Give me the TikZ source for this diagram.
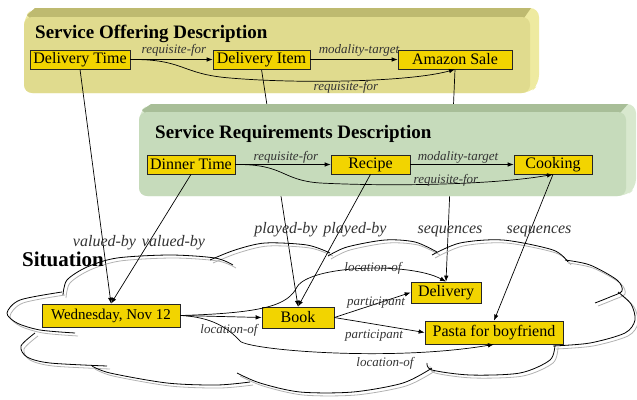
\documentclass[tikz,border=0pt]{standalone}
\usepackage{fontspec}
\setmainfont{Liberation Serif}
\usetikzlibrary{arrows.meta}
\pgfdeclarelayer{lyA}\pgfdeclarelayer{lyB}\pgfdeclarelayer{lyC}
\pgfsetlayers{lyA,lyB,lyC,main}
\definecolor{nodeY}{HTML}{F2D400}
\definecolor{yFace}{HTML}{E0DB8E}
\definecolor{yTop}{HTML}{BEBA70}
\definecolor{yRight}{HTML}{EEEAA0}
\definecolor{gFace}{HTML}{C6DBBB}
\definecolor{gTop}{HTML}{A8BE98}
\definecolor{gRight}{HTML}{D8E8CE}
\newcommand\myCloudArcs{%
 \draw plot[smooth] coordinates {(62,292) (20,300) (7,313) (17,323) (40,330) (75,333)};
 \draw plot[smooth] coordinates {(63,295) (67,280) (87,267) (117,258) (170,255) (215,258) (233,265)};
 \draw plot[smooth] coordinates {(210,260) (235,250) (265,243) (307,245) (330,253)};
 \draw plot[smooth] coordinates {(328,256) (347,247) (385,240) (415,242) (437,252)};
 \draw plot[smooth] coordinates {(432,255) (460,243) (503,240) (553,250) (568,262)};
 \draw plot[smooth] coordinates {(565,260) (590,265) (617,280) (622,291) (610,297) (595,303)};
 \draw plot[smooth] coordinates {(618,292) (631,304) (635,320) (625,333) (590,343) (553,346)};
 \draw plot[smooth] coordinates {(555,344) (550,360) (520,373) (470,375) (432,370) (427,363)};
 \draw plot[smooth] coordinates {(432,368) (403,383) (353,392) (300,392) (260,383) (237,373)};
 \draw plot[smooth] coordinates {(92,366) (110,373) (167,383) (217,385) (250,382)};
 \draw plot[smooth] coordinates {(35,333) (21,346) (27,357) (50,363) (107,366)};
}
\begin{document}
\begin{tikzpicture}[x=1pt,y=-1pt,
 box/.style={draw=black!85, line width=0.7pt, fill=nodeY, inner sep=0pt, font=\fontsize{16}{18}\selectfont},
 lbl/.style={font=\fontsize{13}{15}\selectfont\itshape, text=black!80, inner sep=0pt, anchor=base},
 xlbl/.style={font=\fontsize{16}{18}\selectfont\itshape, text=black!80, inner sep=0pt, anchor=base},
 ttl/.style={font=\fontsize{19}{22}\selectfont\bfseries, inner sep=0pt, anchor=base west},
 arr/.style={-{Latex[length=6pt,width=4.5pt]}, line width=0.7pt},
]
\useasboundingbox (0,0) rectangle (637,399);

% nodes
\node[box, minimum width=100pt, minimum height=19pt] (dt) at (80,59.5) {Delivery Time};
\node[box, minimum width=97pt, minimum height=19pt] (di) at (261.5,59.5) {Delivery Item};
\node[box, minimum width=114pt, minimum height=19pt] (as) at (455,59.5) {Amazon Sale};
\node[box, minimum width=88pt, minimum height=19pt] (dn) at (191,164.5) {Dinner Time};
\node[box, minimum width=79pt, minimum height=19pt] (rc) at (370.5,164.5) {Recipe};
\node[box, minimum width=78pt, minimum height=19pt] (ck) at (553,164.5) {Cooking};
\node[box, minimum width=138pt, minimum height=23pt, font=\fontsize{15}{18}\selectfont] (wd) at (111,315.5) {Wednesday, Nov 12};
\node[box, minimum width=72pt, minimum height=21pt] (bk) at (298,317.5) {Book};
\node[box, minimum width=70pt, minimum height=21pt] (dl) at (446,292.5) {Delivery};
\node[box, minimum width=138pt, minimum height=23pt] (pf) at (494,332.5) {Pasta for boyfriend};

% yellow panel
\begin{pgfonlayer}{lyA}
 \fill[yRight, rounded corners=9pt] (24,17) -- (33,8) -- (539,8) -- (539,84) -- (530,93) -- (24,93) -- cycle;
 \fill[yTop] (27,15) -- (35,8) -- (531,8) -- (524,18) -- (30,18) -- cycle;
 \fill[yFace, rounded corners=8pt] (24,17) rectangle (530,93);
\end{pgfonlayer}

% lines passing behind the green panel
\begin{pgfonlayer}{lyB}
 \draw[arr] (di.south) -- (bk.north);
 \draw[arr] (as.south) -- (dl.north);
\end{pgfonlayer}

% green panel and cloud
\begin{pgfonlayer}{lyC}
 \fill[gRight, rounded corners=9pt] (139,112) -- (149,104) -- (636,104) -- (636,188) -- (626,196) -- (139,196) -- cycle;
 \fill[gTop] (142,110) -- (151,104) -- (628,104) -- (620,113) -- (145,113) -- cycle;
 \fill[gFace, rounded corners=8pt] (139,112) rectangle (626,196);
 \begin{scope}[color=black!30, line width=0.8pt, shift={(3,3)}]
  \myCloudArcs
 \end{scope}
 \begin{scope}[color=black, line width=0.8pt]
  \myCloudArcs
 \end{scope}
\end{pgfonlayer}

% titles
\node[ttl] (t1) at (35,38) {Service Offering Description};
\node[ttl] (t2) at (155,138) {Service Requirements Description};
\node[ttl, font=\fontsize{21}{24}\selectfont\bfseries] (t3) at (22,266) {Situation};

% top panel edges
\draw[arr] (dt.east) -- (di.west);
\draw[arr] (di.east) -- (as.west);
\draw[arr] (dt.east) .. controls (185,59) and (180,74) .. (230,78) .. controls (300,84) and (410,82) .. (as.south);
\node[lbl] (l1) at (174,53) {requisite-for};
\node[lbl] (l2) at (359,53) {modality-target};
\node[lbl] (l3) at (346,90) {requisite-for};

% green panel edges
\draw[arr] (dn.east) -- (rc.west);
\draw[arr] (rc.east) -- (ck.west);
\draw[arr] (dn.east) .. controls (285,164) and (280,180) .. (320,183) .. controls (400,187) and (500,184) .. (ck.south);
\node[lbl] (l4) at (286,160) {requisite-for};
\node[lbl] (l5) at (458,160) {modality-target};
\node[lbl] (l6) at (446,183) {requisite-for};

% cross edges
\draw[arr] (dt.south) -- (wd.north);
\draw[arr] (dn.south) -- (wd.north);
\draw[arr] (rc.south) -- (bk.north);
\draw[arr] (ck.south) -- (pf.north);
\node[xlbl] (v1) at (104.5,246) {valued-by};
\node[xlbl] (v2) at (173.5,246) {valued-by};
\node[xlbl] (pb1) at (286,233) {played-by};
\node[xlbl] (pb2) at (355,233) {played-by};
\node[xlbl] (sq1) at (450,233) {sequences};
\node[xlbl] (sq2) at (539,233) {sequences};

% situation edges
\draw[arr] (wd.east) -- (bk.west);
\draw[arr] (wd.east) .. controls (265,313) and (288,305) .. (297,287) .. controls (310,265) and (410,262) .. (dl.north);
\draw[arr] (bk.east) -- (dl.west);
\draw[arr] (bk.east) -- (pf.west);
\draw[arr] (wd.east) .. controls (212,317) and (228,328) .. (240,341) .. controls (248,350) and (390,362) .. (pf.south);
\node[lbl] (lo1) at (373,271) {location-of};
\node[lbl] (pa1) at (376,305) {participant};
\node[lbl] (pa2) at (374,338) {participant};
\node[lbl] (lo2) at (229,333) {location-of};
\node[lbl] (lo3) at (385,366) {location-of};
\end{tikzpicture}
\end{document}
